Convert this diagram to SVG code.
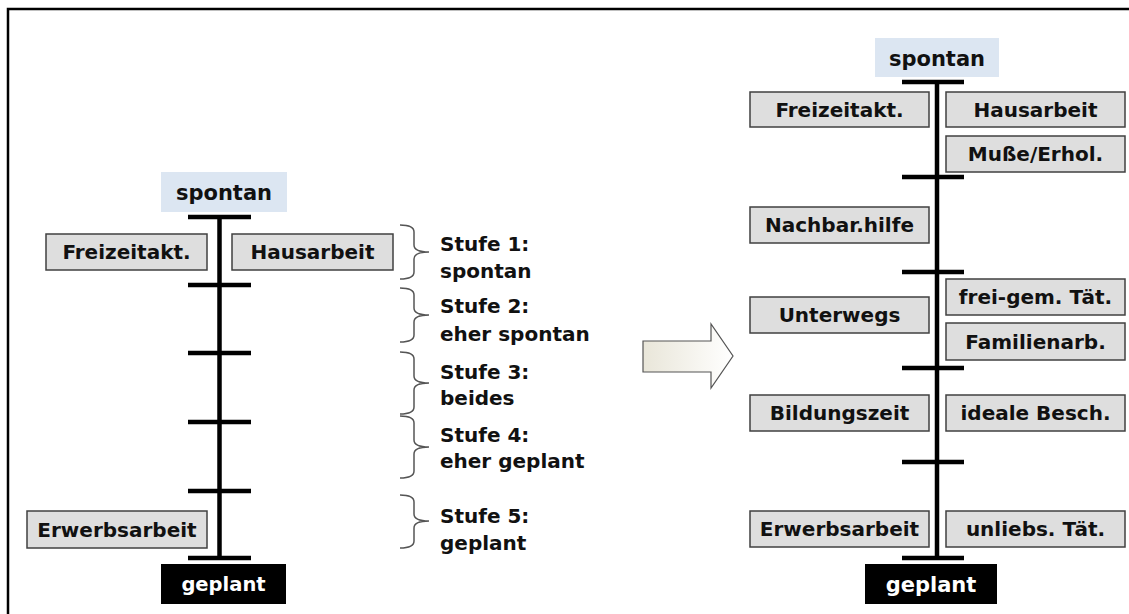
<svg xmlns="http://www.w3.org/2000/svg" width="1129" height="614" viewBox="0 0 1129 614">
<defs>
<style>
.box{fill:#dedede;stroke:#404040;stroke-width:1.5}
.t{font-family:"DejaVu Sans",Verdana,sans-serif;font-weight:bold;font-size:20px;fill:#111;text-anchor:middle}
.s{font-family:"DejaVu Sans",Verdana,sans-serif;font-weight:bold;font-size:20px;fill:#111}
.top{fill:#dce6f2}
.bot{fill:#000}
.w{fill:#fff}
.axis{stroke:#000;stroke-width:4.5;fill:none}
.brace{stroke:#555;stroke-width:1.5;fill:none}
</style>
<linearGradient id="ag" x1="0" y1="0" x2="1" y2="0">
<stop offset="0" stop-color="#e9e6d9"/>
<stop offset="1" stop-color="#ffffff"/>
</linearGradient>
</defs>
<rect width="1129" height="614" fill="#fff"/>
<path d="M8 614 V9 H1129" fill="none" stroke="#000" stroke-width="2.5"/>

<g id="connectors">
<path class="axis" d="M219.5 217 V558 M188 217 H251 M188 285 H251 M188 353 H251 M188 422 H251 M188 491 H251 M188 558 H251"/>
<path class="axis" d="M937 82 V558 M902 82 H964 M902 177 H964 M902 272 H964 M902 368 H964 M902 462 H964 M902 558 H964"/>
</g>

<g id="left-spontan"><rect class="top" x="161" y="172" width="126" height="40"/><text class="t" x="224" y="200" style="font-size:21px">spontan</text></g>
<g id="left-geplant"><rect class="bot" x="161" y="564" width="125" height="40"/><text class="t w" x="223.5" y="591" style="font-size:19.5px;fill:#fff">geplant</text></g>
<g id="left-freizeit"><rect class="box" x="46" y="234" width="161" height="36"/><text class="t" x="126.5" y="259">Freizeitakt.</text></g>
<g id="left-haus"><rect class="box" x="232" y="234" width="161" height="36"/><text class="t" x="312.5" y="259">Hausarbeit</text></g>
<g id="left-erwerb"><rect class="box" x="27" y="511" width="180" height="37"/><text class="t" x="117" y="536.5">Erwerbsarbeit</text></g>

<g id="braces">
<path class="brace" d="M400 225 Q414 225 414 232 V245 Q414 252 429 252 Q414 252 414 259 V272 Q414 279 400 279"/>
<path class="brace" d="M400 288 Q414 288 414 295 V308 Q414 315 429 315 Q414 315 414 322 V335 Q414 342 400 342"/>
<path class="brace" d="M400 352 Q414 352 414 359 V376 Q414 383 429 383 Q414 383 414 390 V407 Q414 414 400 414"/>
<path class="brace" d="M400 416 Q414 416 414 423 V440 Q414 447 429 447 Q414 447 414 454 V471 Q414 478 400 478"/>
<path class="brace" d="M400 495 Q414 495 414 502 V514 Q414 521 429 521 Q414 521 414 528 V541 Q414 548 400 548"/>
</g>
<g id="stufe1"><text class="s" x="440" y="251">Stufe 1:</text><text class="s" x="440" y="278">spontan</text></g>
<g id="stufe2"><text class="s" x="440" y="313">Stufe 2:</text><text class="s" x="440" y="341">eher spontan</text></g>
<g id="stufe3"><text class="s" x="440" y="379">Stufe 3:</text><text class="s" x="440" y="405">beides</text></g>
<g id="stufe4"><text class="s" x="440" y="442">Stufe 4:</text><text class="s" x="440" y="468">eher geplant</text></g>
<g id="stufe5"><text class="s" x="440" y="523">Stufe 5:</text><text class="s" x="440" y="550">geplant</text></g>

<g id="arrow"><path d="M643 341 H711 V324 L733 356 L711 388 V372 H643 Z" fill="url(#ag)" stroke="#555" stroke-width="1.2"/></g>

<g id="right-spontan"><rect class="top" x="875" y="38" width="124" height="39"/><text class="t" x="937" y="65.5" style="font-size:21px">spontan</text></g>
<g id="right-geplant"><rect class="bot" x="865" y="564" width="132" height="40"/><text class="t" x="931" y="591.5" style="font-size:21px;fill:#fff">geplant</text></g>
<g id="r-freizeit"><rect class="box" x="750" y="92" width="179" height="35"/><text class="t" x="839.5" y="116.5">Freizeitakt.</text></g>
<g id="r-haus"><rect class="box" x="946" y="92" width="179" height="35"/><text class="t" x="1035.5" y="116.5">Hausarbeit</text></g>
<g id="r-musse"><rect class="box" x="946" y="136" width="179" height="36"/><text class="t" x="1035.5" y="161">Muße/Erhol.</text></g>
<g id="r-nachbar"><rect class="box" x="750" y="207" width="179" height="36"/><text class="t" x="839.5" y="232">Nachbar.hilfe</text></g>
<g id="r-freigem"><rect class="box" x="946" y="279" width="179" height="36"/><text class="t" x="1035.5" y="304">frei-gem. Tät.</text></g>
<g id="r-unterwegs"><rect class="box" x="750" y="297" width="179" height="36"/><text class="t" x="839.5" y="322">Unterwegs</text></g>
<g id="r-familie"><rect class="box" x="946" y="323" width="179" height="37"/><text class="t" x="1035.5" y="348.5">Familienarb.</text></g>
<g id="r-bildung"><rect class="box" x="750" y="395" width="179" height="36"/><text class="t" x="839.5" y="420">Bildungszeit</text></g>
<g id="r-ideale"><rect class="box" x="946" y="395" width="179" height="36"/><text class="t" x="1035.5" y="420">ideale Besch.</text></g>
<g id="r-erwerb"><rect class="box" x="750" y="511" width="179" height="36"/><text class="t" x="839.5" y="536">Erwerbsarbeit</text></g>
<g id="r-unliebs"><rect class="box" x="946" y="511" width="179" height="36"/><text class="t" x="1035.5" y="536">unliebs. Tät.</text></g>
</svg>
